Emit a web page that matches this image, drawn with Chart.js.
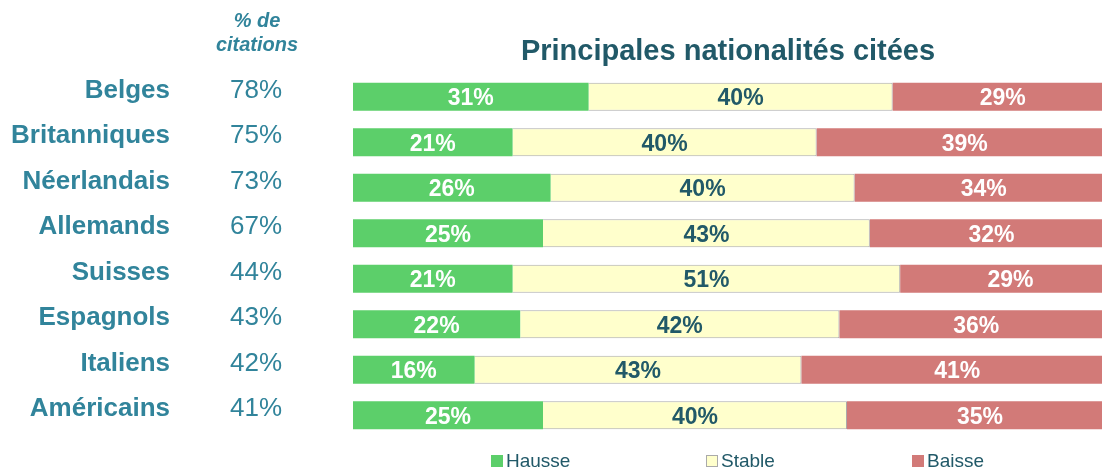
<!DOCTYPE html>
<html lang="fr">
<head>
<meta charset="UTF-8">
<title>Principales nationalités citées</title>
<script src="https://cdn.jsdelivr.net/npm/chart.js"></script>
<style>
  html, body { margin: 0; padding: 0; background: #fff; overflow: hidden; }
  #wrap { position: relative; width: 1102px; height: 470px; overflow: hidden; }
</style>
</head>
<body>
<div id="wrap"><canvas id="chart" width="1120" height="470"></canvas></div>
<script>
const nationalites = ['Belges', 'Britanniques', 'Néerlandais', 'Allemands', 'Suisses', 'Espagnols', 'Italiens', 'Américains'];
const citations = [78, 75, 73, 67, 44, 43, 42, 41];
const hausse = [31, 21, 26, 25, 21, 22, 16, 25];
const stable = [40, 40, 40, 43, 51, 42, 43, 40];
const baisse = [29, 39, 34, 32, 29, 36, 41, 35];

const TEAL = '#31849b';
const DARK = '#215968';
const FONT = '"Liberation Sans", Arial, sans-serif';

// labels inside the bars, names, % de citations column, title and legend
const extras = {
  id: 'extras',
  afterDatasetsDraw(chart) {
    const ctx = chart.ctx;
    ctx.save();
    ctx.textBaseline = 'middle';
    ctx.textAlign = 'center';
    ctx.font = 'bold 23px ' + FONT;
    chart.data.datasets.forEach((ds, i) => {
      const meta = chart.getDatasetMeta(i);
      meta.data.forEach((bar, j) => {
        const p = bar.getProps(['x', 'y', 'base'], true);
        ctx.fillStyle = ds.labelColor;
        ctx.fillText(ds.data[j] + '%', (p.x + p.base) / 2, p.y + 2);
      });
    });

    const y = chart.scales.y;
    ctx.fillStyle = TEAL;
    ctx.textAlign = 'right';
    ctx.font = 'bold 26px ' + FONT;
    nationalites.forEach((n, i) => {
      ctx.fillText(n, 170, y.getPixelForValue(i) - 6);
    });
    ctx.textAlign = 'center';
    ctx.font = '26px ' + FONT;
    citations.forEach((v, i) => {
      ctx.fillText(v + '%', 256, y.getPixelForValue(i) - 6);
    });

    ctx.font = 'italic bold 20px ' + FONT;
    ctx.fillText('% de', 257, 21);
    ctx.fillText('citations', 257, 45);

    ctx.font = 'bold 29px ' + FONT;
    ctx.fillStyle = DARK;
    ctx.fillText('Principales nationalités citées', 728, 52);

    const legendX = [491, 706, 912];
    ctx.font = '19px ' + FONT;
    ctx.textAlign = 'left';
    chart.data.datasets.forEach((ds, i) => {
      ctx.fillStyle = ds.backgroundColor;
      ctx.fillRect(legendX[i], 455, 12, 12);
      if (ds.borderWidth) {
        ctx.strokeStyle = ds.borderColor;
        ctx.lineWidth = 1;
        ctx.strokeRect(legendX[i] + 0.5, 455.5, 11, 11);
      }
      ctx.fillStyle = DARK;
      ctx.fillText(ds.label, legendX[i] + 15, 462);
    });
    ctx.restore();
  }
};

new Chart(document.getElementById('chart'), {
  type: 'bar',
  data: {
    labels: nationalites,
    datasets: [
      { label: 'Hausse', data: hausse, backgroundColor: '#5ccf6a', borderWidth: 0, labelColor: '#ffffff' },
      { label: 'Stable', data: stable, backgroundColor: '#ffffcc', borderColor: '#aaaaaa', borderWidth: 1, labelColor: DARK },
      { label: 'Baisse', data: baisse, backgroundColor: '#d27a78', borderWidth: 0, labelColor: '#ffffff' }
    ]
  },
  options: {
    indexAxis: 'y',
    responsive: false,
    animation: false,
    barPercentage: 0.62,
    categoryPercentage: 1,
    layout: { padding: { top: 74, bottom: 32, left: 353, right: 7 } },
    plugins: {
      legend: { display: false },
      title: { display: false },
      tooltip: { enabled: false }
    },
    scales: {
      x: { stacked: true, min: 0, max: 100, display: false },
      y: { stacked: true, display: false }
    }
  },
  plugins: [extras]
});
</script>
</body>
</html>
